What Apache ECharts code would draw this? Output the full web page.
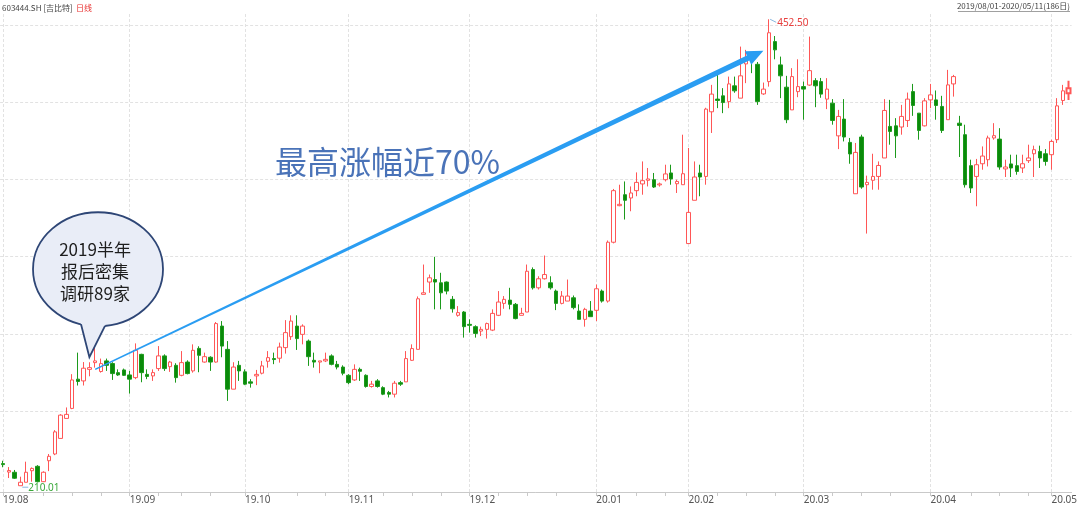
<!DOCTYPE html>
<html><head><meta charset="utf-8">
<script src="https://cdn.jsdelivr.net/npm/echarts@6/dist/echarts.min.js"></script>
<style>html,body{margin:0;padding:0;background:#fff}#c{width:1080px;height:505px}</style>
</head><body><div id="c"></div>
<script>
// trading days per month
const aug19=[1,2,5,6,7,8,9,12,13,14,15,16,19,20,21,22,23,26,27,28,29,30];
const sep19=[2,3,4,5,6,9,10,11,12,16,17,18,19,20,23,24,25,26,27,30];
const oct19=[8,9,10,11,14,15,16,17,18,21,22,23,24,25,28,29,30,31];
const nov19=[1,4,5,6,7,8,11,12,13,14,15,18,19,20,21,22,25,26,27,28,29];
const dec19=[2,3,4,5,6,9,10,11,12,13,16,17,18,19,20,23,24,25,26,27,30,31];
const jan20=[2,3,6,7,8,9,10,13,14,15,16,17,20,21,22,23];
const feb20=[3,4,5,6,7,10,11,12,13,14,17,18,19,20,21,24,25,26,27,28];
const mar20=[2,3,4,5,6,9,10,11,12,13,16,17,18,19,20,23,24,25,26,27,30,31];
const apr20=[1,2,3,7,8,9,10,13,14,15,16,17,20,21,22,23,24,27,28,29,30];
const may20=[6,7,8,11];

const opens=[221.5,217.1,217.0,210.01,211.8,217.8,220.1,212.1,223.0,226.5,234.6,245.0,250.2,265.4,264.5,270.5,274.0,269.4,274.9,273.5,268.8,270.2,267.6,266.2,278.3,267.9,267.1,270.9,277.5,271.9,272.6,267.4,274.3,269.7,281.4,274.3,276.8,274.3,293.0,280.9,260.2,272.6,269.2,264.0,267.1,268.5,274.7,276.1,276.3,281.8,287.5,293.0,288.7,285.2,275.2,274.3,274.9,277.5,273.1,271.7,267.4,265.0,270.5,267.4,261.6,264.5,261.0,258.5,257.6,263.6,264.0,275.2,280.9,309.5,315.9,317.2,315.5,315.9,306.9,298.6,300.3,293.9,292.7,290.4,291.3,290.9,298.6,304.8,306.5,304.3,298.6,300.3,322.4,312.9,317.6,315.5,311.2,304.8,306.0,307.7,300.8,296.5,300.8,301.2,311.2,306.0,336.6,355.6,361.3,359.6,363.4,366.9,368.8,369.1,366.4,369.1,372.6,367.0,366.5,335.9,358.4,372.6,370.8,404.4,411.0,412.7,409.7,417.9,411.5,429.3,432.3,429.1,413.7,420.1,440.9,428.8,417.2,405.4,414.9,417.5,418.3,420.6,420.1,411.0,408.9,391.9,400.6,388.5,361.8,391.3,366.5,368.8,370.8,380.4,396.8,397.1,396.5,399.9,414.9,403.7,397.1,410.6,410.6,407.2,400.3,418.9,398.5,392.5,376.4,370.8,377.4,379.5,390.8,390.2,374.7,377.3,376.4,375.2,379.0,382.6,383.8,382.6,382.1,389.9,410.3,414.1];
const closes=[221.0,217.9,213.9,211.8,217.0,219.0,212.1,217.0,225.3,238.0,246.7,247.1,265.0,264.2,271.1,271.4,274.9,273.5,272.6,268.3,267.6,267.4,265.4,280.4,268.8,266.8,268.8,277.5,270.9,274.3,266.2,274.0,268.3,280.4,277.8,277.1,274.3,294.3,282.6,260.2,271.7,269.7,262.8,263.3,267.9,272.3,276.6,275.6,282.1,289.6,295.6,286.5,293.0,277.1,274.3,274.9,275.7,273.1,271.7,268.5,263.6,270.5,269.5,261.6,262.8,261.6,257.6,257.6,263.3,262.8,276.1,281.3,307.2,310.3,318.1,315.9,310.3,311.2,302.0,300.0,292.7,293.4,289.2,291.3,294.3,299.6,305.5,306.9,304.3,296.9,299.6,321.5,312.9,317.6,319.8,312.9,304.8,308.6,308.6,302.6,296.5,301.7,297.9,312.4,306.0,336.6,363.4,356.3,358.4,362.2,367.7,368.6,369.5,365.3,366.9,372.1,369.5,368.2,372.2,352.1,370.5,370.5,405.8,413.6,410.3,409.2,418.9,415.3,423.1,431.7,431.4,409.7,416.2,445.5,436.6,423.1,400.3,422.7,417.5,416.2,425.8,417.9,413.6,416.2,399.9,402.0,391.3,382.5,383.3,365.3,367.7,370.8,376.5,405.1,394.2,391.9,402.0,411.0,407.7,394.7,410.1,413.2,407.7,394.7,418.4,422.7,397.3,366.5,364.8,376.9,381.4,390.8,392.0,375.7,375.7,375.2,373.4,377.4,380.4,384.7,380.4,378.6,389.0,407.5,415.3,416.7];
const lows=[219.6,214.0,213.5,210.01,211.8,212.1,211.7,211.9,217.6,225.9,234.6,245.0,249.8,262.1,262.1,266.9,271.4,268.8,269.7,265.0,267.1,267.1,257.9,265.4,263.8,265.4,264.5,269.7,269.7,269.2,263.6,266.9,267.9,268.8,269.0,274.0,269.7,274.0,276.8,254.1,260.2,264.5,262.3,261.0,262.3,267.9,271.4,273.2,274.0,278.7,285.8,280.6,283.5,272.3,271.4,268.5,274.3,272.6,270.5,267.4,262.8,264.5,264.5,261.0,261.0,261.0,257.1,255.9,255.9,261.9,264.0,274.9,280.9,309.5,310.3,301.7,301.7,309.5,300.0,297.9,287.0,289.6,287.0,287.8,286.5,290.4,298.2,302.0,301.7,296.5,298.6,300.3,312.0,312.0,317.2,312.0,301.3,304.3,306.0,301.7,296.5,292.7,297.9,295.6,305.2,305.2,336.0,355.3,348.4,352.7,360.5,361.3,365.6,364.8,365.5,368.2,366.5,362.2,366.5,335.9,358.4,360.5,366.5,393.4,406.3,403.7,406.3,414.3,411.5,419.3,424.5,408.0,413.2,417.5,431.7,411.5,398.5,405.4,412.0,400.3,417.9,406.8,411.7,405.8,397.7,385.0,389.0,377.4,361.8,364.4,341.1,363.9,363.9,380.4,387.3,380.4,392.5,396.5,402.3,389.9,396.8,406.3,400.3,393.4,400.3,412.3,380.9,365.0,362.2,355.3,374.3,376.0,389.9,374.3,370.5,370.5,371.7,372.6,377.8,370.5,375.2,376.4,374.3,388.2,408.0,410.6];
const highs=[223.0,219.7,218.2,214.7,222.5,219.5,220.7,217.5,226.5,238.9,247.2,250.7,268.0,279.2,274.3,274.2,283.5,276.1,276.1,274.2,270.5,270.9,269.7,284.0,278.6,270.5,270.5,282.6,278.3,274.9,273.7,280.0,275.2,283.5,282.5,279.2,277.3,295.1,295.6,285.2,274.2,274.9,270.5,265.4,270.2,274.9,280.0,279.2,284.4,296.1,298.6,298.6,293.9,286.0,279.2,274.9,279.2,278.3,274.9,272.6,268.0,273.1,271.4,267.9,264.5,265.4,261.7,259.3,264.5,264.5,280.0,283.5,308.4,325.0,319.8,329.0,320.7,316.2,308.6,303.4,300.8,296.5,293.4,292.7,294.8,301.7,311.2,308.6,312.9,305.0,302.5,325.0,323.5,318.9,329.7,318.9,312.0,311.2,317.2,308.9,304.3,302.5,306.0,314.6,312.0,337.5,364.3,366.5,368.2,365.6,372.9,378.6,375.2,372.6,367.6,376.9,376.9,369.1,392.5,385.6,378.6,376.9,406.5,418.4,424.5,416.7,422.7,422.7,438.3,436.6,434.0,430.3,419.6,452.5,443.8,433.1,423.1,427.1,431.7,420.1,443.5,421.9,422.0,421.9,411.0,405.4,411.0,390.8,388.2,392.5,371.2,382.6,378.6,411.0,410.6,401.1,408.0,414.4,418.9,403.7,411.5,418.9,415.5,412.7,426.2,423.6,402.3,397.7,379.5,379.9,386.4,392.0,398.5,395.9,379.5,382.1,382.1,382.1,387.3,386.8,386.8,385.0,389.9,411.5,418.4,420.6];

const gridValues=[449.5,409.4,369.3,329.2,289.0,248.9];
const bubbleLines=['2019半年','报后密集','调研89家'];
const headline='最高涨幅近70%';

function mk(ym, days){return days.map(d=>ym+'/'+(d<10?'0':'')+d);}
const dates=[].concat(mk('2019/08',aug19),mk('2019/09',sep19),mk('2019/10',oct19),mk('2019/11',nov19),mk('2019/12',dec19),
  mk('2020/01',jan20),mk('2020/02',feb20),mk('2020/03',mar20),mk('2020/04',apr20),mk('2020/05',may20));

const monthStarts=[]; const weekStarts=[];
dates.forEach((d,i)=>{
  if(i===0||d.slice(0,7)!==dates[i-1].slice(0,7)) monthStarts.push(i);
  if(i>0){
    const a=new Date(dates[i-1].replace(/\//g,'-')), b=new Date(d.replace(/\//g,'-'));
    if(b.getUTCDay()<=a.getUTCDay()||(b-a)/864e5>=7) weekStarts.push(i);
  }
});
const monthSet=new Set(monthStarts);
const tickSet=new Set(monthStarts);
weekStarts.forEach(i=>{ if(!monthStarts.some(m=>Math.abs(m-i)<=3)) tickSet.add(i); });

const candleData=dates.map((d,i)=>{
  const v=[opens[i],closes[i],lows[i],highs[i]];
  return i===dates.length-1?{value:v,itemStyle:{borderWidth:2}}:v;
});

const iLow=lows.indexOf(Math.min(...lows));
const iHigh=highs.indexOf(Math.max(...highs));

const chart=echarts.init(document.getElementById('c'),null,{renderer:'canvas'});
const FONT='"Noto Sans CJK SC","Noto Sans",sans-serif';
chart.setOption({
  animation:false,
  backgroundColor:'#ffffff',
  grid:{left:0,right:8,top:12,bottom:12,containLabel:false},
  xAxis:{type:'category',data:dates,boundaryGap:true,
    axisLine:{lineStyle:{color:'#c9c9c9',width:1}},
    axisTick:{show:true,alignWithLabel:true,length:4,interval:(i)=>tickSet.has(i),lineStyle:{color:'#c9c9c9'}},
    axisLabel:{interval:(i)=>monthSet.has(i),align:'left',margin:3,color:'#555',fontSize:10,fontFamily:'"Noto Sans",sans-serif',
      formatter:(v)=>v.slice(2,4)+'.'+v.slice(5,7)},
    splitLine:{show:false}},
  yAxis:{type:'value',min:206.74,max:456.29,show:false,splitLine:{show:false}},
  series:[
    {type:'line',data:[],z:0,silent:true,
     markLine:{silent:true,z:0,symbol:['none','none'],label:{show:false},animation:false,
       lineStyle:{color:'#e2e2e2',type:[3,2],width:1},
       data:monthStarts.map(i=>({xAxis:dates[i]})).concat(gridValues.map(v=>({yAxis:v})))}},
    {type:'candlestick',data:candleData,barWidth:4,z:3,
     itemStyle:{color:'#ffffff',color0:'#0a8a0a',borderColor:'#ff5656',borderColor0:'#1c9a1c',borderWidth:1}}
  ]
});

function px(i,v){return chart.convertToPixel({xAxisIndex:0,yAxisIndex:0},[i,v]);}

// arrow
const S=px(16,270.5), T=px(131.7,436.2);
const dx=T[0]-S[0], dy=T[1]-S[1], len=Math.hypot(dx,dy);
const ux=dx/len, uy=dy/len, nx=-uy, ny=ux;
const HL=17, HW=7.5, h0=0.8, h1=2.8;
const B=[T[0]-ux*HL,T[1]-uy*HL];
const arrowPts=[
  [S[0]+nx*h0,S[1]+ny*h0],[B[0]+nx*h1,B[1]+ny*h1],[B[0]+nx*HW,B[1]+ny*HW],T,
  [B[0]-nx*HW,B[1]-ny*HW],[B[0]-nx*h1,B[1]-ny*h1],[S[0]-nx*h0,S[1]-ny*h0]];

// bubble anchored at its tail tip
const tip=px(14.5,276.8);
const cx=tip[0]+8.6, cy=tip[1]-88, rx=65, ry=57;
function ey(x){const t=(x-cx)/rx;return cy+ry*Math.sqrt(1-t*t);}
const bl=[cx-17,ey(cx-17)], br=[cx+7,ey(cx+7)];

const lowP=px(iLow,lows[iLow]), highP=px(iHigh,highs[iHigh]);

chart.setOption({graphic:[
  {type:'text',left:2,top:2,style:{text:'{a|603444.SH [吉比特]} {b|日线}',rich:{a:{fill:'#444',fontSize:8,fontFamily:FONT},b:{fill:'#e8302f',fontSize:8,fontFamily:FONT}}},z:10},
  {type:'text',right:10,top:2,style:{text:'2019/08/01-2020/05/11(186日)',fill:'#444',fontSize:8,fontFamily:FONT},z:10},
  {type:'line',shape:{x1:958,y1:11.5,x2:1070,y2:11.5},style:{stroke:'#888',lineWidth:0.8},z:10},
  {type:'polygon',shape:{points:arrowPts},style:{fill:'#2a9df2'},z:20},
  {type:'text',x:275,y:162,style:{text:headline,fill:'#4a73b8',fontSize:32,fontFamily:FONT,textVerticalAlign:'middle',
    shadowColor:'rgba(30,50,90,0.35)',shadowBlur:2,shadowOffsetX:1,shadowOffsetY:1},z:20},
  {type:'ellipse',shape:{cx:cx,cy:cy,rx:rx,ry:ry},style:{fill:'#e9edf7',stroke:'#2e4676',lineWidth:1.8},z:30},
  {type:'polygon',shape:{points:[[bl[0]-2,bl[1]-8],bl,tip,br,[br[0]+2,br[1]-8]]},style:{fill:'#e9edf7'},z:31},
  {type:'polyline',shape:{points:[bl,tip,br]},style:{stroke:'#2e4676',lineWidth:1.8,fill:null},z:32},
  {type:'text',x:cx-3,y:cy+2,style:{text:bubbleLines.join('\n'),fill:'#1e1e1e',fontSize:17,lineHeight:22,fontFamily:FONT,align:'center',verticalAlign:'middle'},z:33},
  {type:'line',shape:{x1:lowP[0]+2,y1:lowP[1]+1.5,x2:lowP[0]+8,y2:lowP[1]+1.5},style:{stroke:'#8ab8e0',lineWidth:1},z:10},
  {type:'text',x:lowP[0]+8,y:lowP[1]+2,style:{text:lows[iLow].toFixed(2),fill:'#3aa83a',fontSize:10,fontFamily:'"Noto Sans",sans-serif',verticalAlign:'middle'},z:10},
  {type:'line',shape:{x1:highP[0]+1,y1:highP[1],x2:highP[0]+7,y2:highP[1]+3},style:{stroke:'#8ab8e0',lineWidth:1},z:10},
  {type:'text',x:highP[0]+8,y:highP[1]+3.5,style:{text:highs[iHigh].toFixed(2),fill:'#e8403f',fontSize:10,fontFamily:'"Noto Sans",sans-serif',verticalAlign:'middle'},z:10}
]});
</script></body></html>
